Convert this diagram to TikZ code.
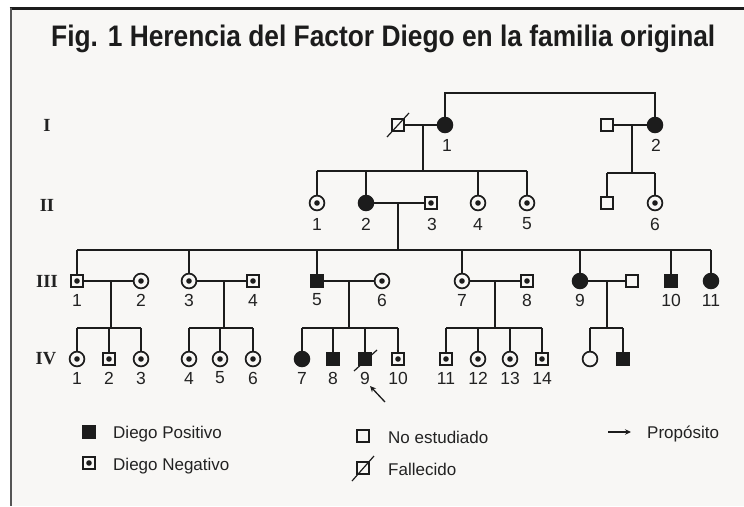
\documentclass[tikz,border=0pt]{standalone}
\usepackage{fontspec}
\usepackage{graphicx}
\setmainfont{Liberation Serif}
\setsansfont{Liberation Sans}
\usetikzlibrary{arrows.meta}
\definecolor{lc}{HTML}{1C1C1C}
\definecolor{bgc}{HTML}{F8F7F5}
\definecolor{tc}{HTML}{222222}
\definecolor{frc}{HTML}{555555}
\begin{document}
\begin{tikzpicture}[x=1pt,y=-1pt,
  pedsym/.style={draw=lc,line width=1.7pt,inner sep=0pt,outer sep=0pt},
  sqE/.style={pedsym,rectangle,minimum size=12.3pt,fill=bgc},
  sqP/.style={pedsym,rectangle,minimum size=12.3pt,fill=lc},
  sqN/.style={sqE,path picture={\fill[lc] (path picture bounding box.center) circle (2.8pt);}},
  ciE/.style={pedsym,circle,minimum size=14.8pt,fill=bgc},
  ciP/.style={pedsym,circle,minimum size=14.8pt,fill=lc},
  ciN/.style={ciE,path picture={\fill[lc] (path picture bounding box.center) circle (2.8pt);}},
  lnk/.style={draw=lc,line width=1.5pt},
  decslash/.style={draw=lc,line width=1.2pt},
  numlab/.style={font=\sffamily\fontsize{17.5}{19}\selectfont,text=tc,inner sep=0pt},
  genlab/.style={font=\rmfamily\bfseries\fontsize{18.5}{20}\selectfont,text=tc,inner sep=0pt},
  legtxt/.style={font=\sffamily\fontsize{17}{19}\selectfont,text=tc,inner sep=0pt,anchor=base west}
]
\useasboundingbox (0,0) rectangle (744,506);
% frame
\fill[white] (0,0) rectangle (744,506);
\fill[bgc] (11,8) rectangle (744,506);
\draw[line width=3pt,color=lc] (9.5,8) -- (744,8);
\draw[line width=2pt,color=frc] (11,8) -- (11,506);
% title
\node[anchor=base west,inner sep=0pt,text=lc] (title) at (51,46)
  {\resizebox{664pt}{21.5pt}{\sffamily\bfseries Fig. 1 Herencia del Factor Diego en la familia original}};
% generation labels
\node[genlab] (gI) at (47,125) {I};
\node[genlab] (gII) at (47,205) {II};
\node[genlab] (gIII) at (47,281) {III};
\node[genlab] (gIV) at (46,359) {IV};

% ---------- Generation I ----------
\node[sqE] (I1h) at (398,125) {};
\node[ciP] (I1) at (445,125) {};
\node[sqE] (I2h) at (607,125) {};
\node[ciP] (I2) at (655,125) {};
\draw[decslash] ([shift={(-11,12)}]I1h.center) -- ([shift={(11,-12)}]I1h.center);
\node[numlab] (lI1) at (447,145) {1};
\node[numlab] (lI2) at (656,145) {2};
\coordinate (topbar) at (550,93);
\draw[lnk] (I1) -- (I1 |- topbar) -- (I2 |- topbar) -- (I2);
\draw[lnk] (I1h) -- (I1);
\draw[lnk] (I2h) -- (I2);
\coordinate (m1) at (423,125); \coordinate (s1) at (423,171);
\coordinate (m2) at (632,125); \coordinate (s2) at (632,173);
\draw[lnk] (m1) -- (s1);
\draw[lnk] (m2) -- (s2);

% ---------- Generation II ----------
\node[ciN] (II1) at (317,203) {};
\node[ciP] (II2) at (366,203) {};
\node[sqN] (II3) at (431,203) {};
\node[ciN] (II4) at (478,203) {};
\node[ciN] (II5) at (527,203) {};
\node[sqE] (II6h) at (607,203) {};
\node[ciN] (II6) at (655,203) {};
\draw[lnk] (II1 |- s1) -- (II5 |- s1);
\foreach \n in {II1,II2,II4,II5} \draw[lnk] (\n) -- (\n |- s1);
\draw[lnk] (II6h |- s2) -- (II6 |- s2);
\foreach \n in {II6h,II6} \draw[lnk] (\n) -- (\n |- s2);
\draw[lnk] (II2) -- (II3);
\coordinate (m3) at (398,203); \coordinate (s3) at (398,250);
\draw[lnk] (m3) -- (s3);
\node[numlab] (lII1) at (317,224) {1};
\node[numlab] (lII2) at (366,224) {2};
\node[numlab] (lII3) at (432,224) {3};
\node[numlab] (lII4) at (478,224) {4};
\node[numlab] (lII5) at (527,224) {5};
\node[numlab] (lII6) at (655,224) {6};

% ---------- Generation III ----------
\node[sqN] (III1) at (77,281) {};
\node[ciN] (III2) at (141,281) {};
\node[ciN] (III3) at (189,281) {};
\node[sqN] (III4) at (253,281) {};
\node[sqP] (III5) at (317,281) {};
\node[ciN] (III6) at (382,281) {};
\node[ciN] (III7) at (462,281) {};
\node[sqN] (III8) at (527,281) {};
\node[ciP] (III9) at (580,281) {};
\node[sqE] (III9h) at (632,281) {};
\node[sqP] (III10) at (671,281) {};
\node[ciP] (III11) at (711,281) {};
\draw[lnk] (III1 |- s3) -- (III11 |- s3);
\foreach \n in {III1,III3,III5,III7,III9,III10,III11} \draw[lnk] (\n) -- (\n |- s3);
\draw[lnk] (III1) -- (III2);
\draw[lnk] (III3) -- (III4);
\draw[lnk] (III5) -- (III6);
\draw[lnk] (III7) -- (III8);
\draw[lnk] (III9) -- (III9h);
\coordinate (s4) at (0,328);
\coordinate (d1) at (111,281); \coordinate (d2) at (224,281); \coordinate (d3) at (349,281);
\coordinate (d4) at (495,281); \coordinate (d5) at (607,281);
\foreach \d in {d1,d2,d3,d4,d5} \draw[lnk] (\d) -- (\d |- s4);
\foreach \x/\t in {77/1,141/2,189/3,253/4,317/5,382/6,462/7,527/8,580/9,671/10,711/11}
  \node[numlab] (lIII\t) at (\x,300) {\t};

% ---------- Generation IV ----------
\node[ciN] (IV1) at (77,359) {};
\node[sqN] (IV2) at (109,359) {};
\node[ciN] (IV3) at (141,359) {};
\node[ciN] (IV4) at (189,359) {};
\node[ciN] (IV5) at (220,359) {};
\node[ciN] (IV6) at (253,359) {};
\node[ciP] (IV7) at (302,359) {};
\node[sqP] (IV8) at (333,359) {};
\node[sqP] (IV9) at (365,359) {};
\node[sqN] (IV10) at (398,359) {};
\node[sqN] (IV11) at (446,359) {};
\node[ciN] (IV12) at (478,359) {};
\node[ciN] (IV13) at (510,359) {};
\node[sqN] (IV14) at (542,359) {};
\node[ciE] (IV15) at (590,359) {};
\node[sqP] (IV16) at (623,359) {};
\draw[decslash] ([shift={(-11,12)}]IV9.center) -- ([shift={(12,-9)}]IV9.center);
\draw[lnk] (IV1 |- s4) -- (IV3 |- s4);
\draw[lnk] (IV4 |- s4) -- (IV6 |- s4);
\draw[lnk] (IV7 |- s4) -- (IV10 |- s4);
\draw[lnk] (IV11 |- s4) -- (IV14 |- s4);
\draw[lnk] (IV15 |- s4) -- (IV16 |- s4);
\foreach \n in {IV1,IV2,IV3,IV4,IV5,IV6,IV7,IV8,IV9,IV10,IV11,IV12,IV13,IV14,IV15,IV16}
  \draw[lnk] (\n) -- (\n |- s4);
\foreach \x/\t in {77/1,109/2,141/3,189/4,220/5,253/6,302/7,333/8,365/9,398/10,446/11,478/12,510/13,542/14}
  \node[numlab] (lIV\t) at (\x,378) {\t};
% proband arrow
\coordinate (arrS) at (385,402);
\coordinate (arrT) at (370,386);
\draw[draw=lc,line width=1.3pt,-{Stealth[length=6pt,width=5.5pt]}] (arrS) -- (arrT);

% ---------- Legend ----------
\node[sqP] (lgP) at (89,432) {};
\node[legtxt] (tP) at (113,438) {Diego Positivo};
\node[sqN] (lgN) at (89,463) {};
\node[legtxt] (tN) at (113,470) {Diego Negativo};
\node[sqE] (lgE) at (363,436) {};
\node[legtxt] (tE) at (388,443) {No estudiado};
\node[sqE] (lgD) at (363,468) {};
\draw[decslash] ([shift={(-11,13)}]lgD.center) -- ([shift={(11,-12)}]lgD.center);
\node[legtxt] (tD) at (388,475) {Fallecido};
\coordinate (la1) at (608,432);
\coordinate (la2) at (631,432);
\draw[draw=lc,line width=1.3pt,-{Stealth[length=6pt,width=5.5pt]}] (la1) -- (la2);
\node[legtxt] (tA) at (647,438) {Propósito};
\end{tikzpicture}
\end{document}
